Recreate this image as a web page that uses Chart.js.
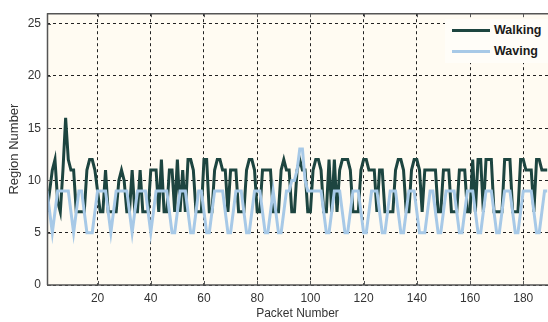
<!DOCTYPE html>
<html><head><meta charset="utf-8">
<script src="https://cdn.jsdelivr.net/npm/chart.js@4/dist/chart.umd.min.js"></script>
<style>
html,body{margin:0;padding:0;background:#fff;}
#wrap{position:relative;width:548px;height:322px;overflow:hidden;}
#legend{position:absolute;left:445px;top:19px;width:103px;height:44px;background:#fffdf8;font-family:'Liberation Sans',Arial,sans-serif;font-weight:bold;font-size:12.5px;color:#1a1a1a;}
.item{position:absolute;left:7px;height:16px;display:flex;align-items:center;white-space:nowrap;}
.swatch{width:38px;height:3px;margin-right:4px;}
</style></head>
<body><div id="wrap"><canvas id="c" width="548" height="322"></canvas><div id="legend"></div></div>
<script>
const seriesNames = ['Walking', 'Waving'];
const walking = [
 7, 9, 11, 12, 8, 7, 11, 16, 12, 11,
 11, 7, 7, 7, 7, 11, 12, 12, 11, 9,
 7, 7, 11, 7, 7, 7, 7, 10, 11, 10,
 7, 7, 11, 7, 7, 11, 7, 7, 7, 11,
 11, 11, 7, 12, 7, 7, 11, 11, 7, 12,
 7, 11, 7, 12, 12, 11, 7, 7, 7, 12,
 12, 7, 7, 11, 12, 12, 11, 11, 7, 11,
 11, 11, 7, 7, 7, 11, 12, 12, 11, 7,
 7, 11, 11, 11, 11, 7, 7, 7, 11, 12,
 11, 11, 7, 7, 11, 12, 11, 11, 7, 7,
 11, 12, 12, 11, 7, 7, 12, 7, 12, 7,
 11, 12, 12, 12, 11, 7, 7, 7, 11, 12,
 12, 11, 11, 11, 7, 11, 11, 7, 7, 7,
 7, 11, 12, 12, 11, 7, 7, 11, 12, 12,
 11, 7, 11, 11, 11, 11, 11, 7, 7, 11,
 11, 11, 7, 7, 7, 11, 11, 11, 7, 7,
 12, 7, 12, 12, 7, 12, 12, 12, 7, 7,
 7, 7, 12, 12, 12, 7, 7, 7, 12, 12,
 11, 11, 11, 7, 12, 12, 11, 11, 11
];
const waving = [
 9, 7, 5, 7, 9, 9, 9, 9, 9, 7,
 5, 7, 9, 9, 7, 5, 5, 5, 7, 9,
 9, 9, 9, 7, 5, 7, 9, 9, 9, 9,
 9, 7, 5, 7, 9, 9, 9, 9, 7, 5,
 7, 9, 9, 9, 9, 9, 7, 5, 5, 7,
 9, 9, 9, 7, 5, 5, 7, 9, 9, 7,
 5, 5, 7, 9, 9, 9, 9, 7, 5, 5,
 7, 9, 9, 9, 7, 5, 5, 7, 9, 9,
 9, 7, 5, 5, 7, 9, 7, 5, 5, 7,
 9, 9, 10, 10, 11, 13, 13, 10, 9, 9,
 9, 9, 9, 9, 7, 5, 5, 7, 9, 9,
 9, 7, 5, 5, 7, 9, 9, 9, 7, 5,
 5, 7, 9, 9, 9, 7, 5, 5, 7, 9,
 9, 9, 7, 5, 5, 7, 9, 9, 9, 7,
 5, 5, 5, 7, 9, 9, 7, 5, 5, 7,
 9, 9, 9, 9, 7, 5, 5, 7, 9, 9,
 9, 7, 5, 5, 7, 9, 9, 9, 7, 5,
 5, 7, 9, 9, 9, 7, 5, 5, 7, 9,
 9, 9, 9, 7, 5, 5, 7, 9, 9
];
const packets = walking.map((_, i) => i + 1);
const xTicks = [20, 40, 60, 80, 100, 120, 140, 160, 180];
const yTicks = [0, 5, 10, 15, 20, 25];

const colors = ['#1d4540', '#a7c9e7'];
const FONT = "'Liberation Sans', Arial, sans-serif";

const plotDecor = {
  id: 'plotDecor',
  beforeDraw(chart) {
    const {ctx, chartArea: a} = chart;
    ctx.save();
    ctx.fillStyle = '#fffbf2';
    ctx.fillRect(a.left, a.top, a.right - a.left, a.bottom - a.top);
    ctx.restore();
  },
  afterDraw(chart) {
    const {ctx, chartArea: a, scales} = chart;
    ctx.save();
    ctx.strokeStyle = '#555';
    ctx.lineWidth = 1.5;
    ctx.beginPath();
    ctx.moveTo(a.left, a.top + 0.5);
    ctx.lineTo(a.right, a.top + 0.5);
    ctx.moveTo(a.left + 0.5, a.top);
    ctx.lineTo(a.left + 0.5, a.bottom);
    ctx.moveTo(a.left, a.bottom);
    ctx.lineTo(a.right, a.bottom);
    ctx.stroke();
    ctx.lineWidth = 1;
    ctx.beginPath();
    xTicks.forEach(v => {
      const x = Math.round(scales.x.getPixelForValue(v)) + 0.5;
      ctx.moveTo(x, a.top); ctx.lineTo(x, a.top + 4);
      ctx.moveTo(x, a.bottom); ctx.lineTo(x, a.bottom - 4);
    });
    yTicks.forEach(v => {
      const y = Math.round(scales.y.getPixelForValue(v)) + 0.5;
      ctx.moveTo(a.left, y); ctx.lineTo(a.left + 4, y);
    });
    ctx.stroke();
    ctx.restore();
  }
};

const chart = new Chart(document.getElementById('c'), {
  type: 'line',
  data: {
    labels: packets,
    datasets: [
      {label: seriesNames[0], data: walking, borderColor: colors[0], backgroundColor: colors[0], borderWidth: 3, pointRadius: 0, tension: 0, order: 1},
      {label: seriesNames[1], data: waving, borderColor: colors[1], backgroundColor: colors[1], borderWidth: 3, pointRadius: 0, tension: 0, order: 0}
    ]
  },
  options: {
    responsive: false,
    animation: false,
    events: [],
    layout: {padding: {top: 11, right: 0, bottom: 0, left: 0}},
    plugins: {legend: {display: false}, tooltip: {enabled: false}},
    scales: {
      x: {
        type: 'linear', min: 1, max: 189.3,
        afterBuildTicks: s => { s.ticks = xTicks.map(v => ({value: v})); },
        afterFit: s => { s.height = 37; },
        grid: {color: '#222', lineWidth: 1, drawTicks: false},
        border: {display: false, dash: [3, 3]},
        ticks: {color: '#333', padding: 6, font: {family: FONT, size: 12}, maxRotation: 0, autoSkip: false},
        title: {display: true, text: 'Packet Number', color: '#333', font: {family: FONT, size: 12}, padding: {top: 0, bottom: 1}}
      },
      y: {
        min: 0, max: 26,
        afterBuildTicks: s => { s.ticks = yTicks.map(v => ({value: v})); },
        afterFit: s => { s.width = 47; },
        grid: {color: '#222', lineWidth: 1, drawTicks: false},
        border: {display: false, dash: [3, 3]},
        ticks: {color: '#333', padding: 6, font: {family: FONT, size: 12}},
        title: {display: true, text: 'Region Number', color: '#333', font: {family: FONT, size: 13}, padding: {top: 7, bottom: 0}}
      }
    }
  },
  plugins: [plotDecor]
});

const legend = document.getElementById('legend');
chart.data.datasets.forEach((ds, i) => {
  const item = document.createElement('div');
  item.className = 'item';
  item.style.top = (3 + i * 21) + 'px';
  const sw = document.createElement('span');
  sw.className = 'swatch';
  sw.style.background = ds.borderColor;
  const tx = document.createElement('span');
  tx.textContent = ds.label;
  item.appendChild(sw); item.appendChild(tx);
  legend.appendChild(item);
});
</script></body></html>
